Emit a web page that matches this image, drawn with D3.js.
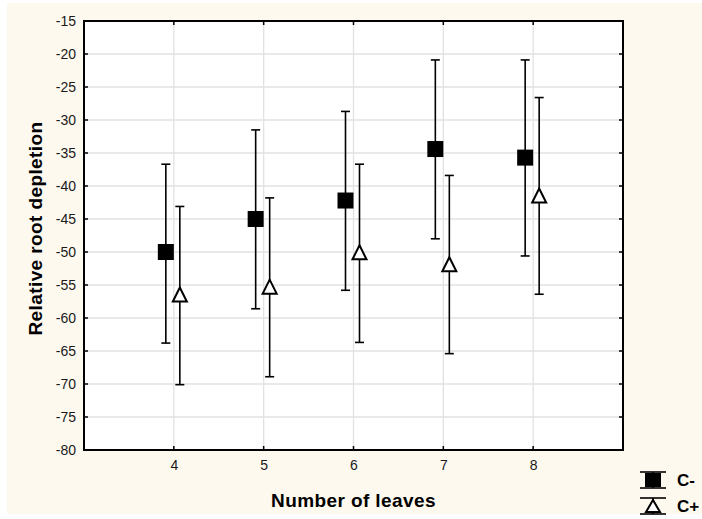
<!DOCTYPE html>
<html>
<head>
<meta charset="utf-8">
<script src="https://d3js.org/d3.v7.min.js"></script>
<style>
  body { margin: 0; background: #fff; }
  svg { display: block; font-family: Arial, "Liberation Sans", sans-serif; }
</style>
</head>
<body>
<div id="chart"></div>
<script>
// data
const leaves = [4, 5, 6, 7, 8];
const cMinusMean = [-50.0, -45.0, -42.2, -34.4, -35.7];
const cMinusLow = [-63.8, -58.6, -55.8, -48.0, -50.6];
const cMinusHigh = [-36.7, -31.5, -28.7, -20.9, -20.9];
const cPlusMean = [-56.6, -55.4, -50.2, -52.0, -41.6];
const cPlusLow = [-70.1, -68.9, -63.7, -65.4, -56.4];
const cPlusHigh = [-43.1, -41.8, -36.7, -38.4, -26.6];
const yTicks = d3.range(-80, -14, 5);
const seriesNames = ['C-', 'C+'];

const width = 702, height = 519;
const margin = { left: 84, top: 21, right: 79, bottom: 69 };
const fontStack = 'Arial, "Liberation Sans", sans-serif';

const svg = d3.select('#chart').append('svg')
    .attr('width', width)
    .attr('height', height);

svg.append('rect')
    .attr('x', 7).attr('y', 3)
    .attr('width', width - 7).attr('height', 511)
    .attr('fill', '#fdf9ee');

const x = d3.scaleLinear().domain([3, 9]).range([margin.left, width - margin.right]);
const y = d3.scaleLinear().domain([-80, -15]).range([height - margin.bottom, margin.top]);

svg.append('rect')
    .attr('x', x(3)).attr('y', y(-15))
    .attr('width', x(9) - x(3)).attr('height', y(-80) - y(-15))
    .attr('fill', '#fff');

// grid
svg.append('g').selectAll('line')
    .data(yTicks.slice(1, -1))
    .enter().append('line')
    .attr('x1', x(3)).attr('x2', x(9))
    .attr('y1', d => y(d)).attr('y2', d => y(d))
    .attr('stroke', '#e2e2e2').attr('stroke-width', 1.3);
svg.append('g').selectAll('line')
    .data(leaves)
    .enter().append('line')
    .attr('y1', y(-15)).attr('y2', y(-80))
    .attr('x1', d => x(d)).attr('x2', d => x(d))
    .attr('stroke', '#e2e2e2').attr('stroke-width', 1.3);

// axes (labels only, frame drawn below)
const yAxis = svg.append('g')
    .attr('transform', `translate(${x(3)},0)`)
    .call(d3.axisLeft(y).tickValues(yTicks).tickFormat(d => String(d)).tickSize(0).tickPadding(8));
const xAxis = svg.append('g')
    .attr('transform', `translate(0,${y(-80)})`)
    .call(d3.axisBottom(x).tickValues(leaves).tickFormat(d => String(d)).tickSize(0).tickPadding(10));
[yAxis, xAxis].forEach(a => {
    a.select('.domain').remove();
    a.selectAll('text')
        .style('font-size', '14px')
        .style('font-family', fontStack)
        .attr('fill', '#1a1a1a');
});

// inner ticks on all sides
const tk = svg.append('g').attr('stroke', '#000').attr('stroke-width', 1.5);
yTicks.forEach(v => {
    tk.append('line').attr('x1', x(3)).attr('x2', x(3) + 4).attr('y1', y(v)).attr('y2', y(v));
    tk.append('line').attr('x1', x(9)).attr('x2', x(9) - 4).attr('y1', y(v)).attr('y2', y(v));
});
leaves.forEach(v => {
    tk.append('line').attr('x1', x(v)).attr('x2', x(v)).attr('y1', y(-80)).attr('y2', y(-80) - 4);
    tk.append('line').attr('x1', x(v)).attr('x2', x(v)).attr('y1', y(-15)).attr('y2', y(-15) + 4);
});

svg.append('rect')
    .attr('x', x(3)).attr('y', y(-15))
    .attr('width', x(9) - x(3)).attr('height', y(-80) - y(-15))
    .attr('fill', 'none').attr('stroke', '#000').attr('stroke-width', 2);

// error bars + markers
function drawMarker(g, cx, cy, kind) {
    if (kind === 'square') {
        g.append('rect').attr('x', cx - 8).attr('y', cy - 8)
            .attr('width', 16).attr('height', 16).attr('fill', '#000');
    } else {
        g.append('path')
            .attr('d', `M${cx},${cy - 8}L${cx + 7},${cy + 6}L${cx - 7},${cy + 6}Z`)
            .attr('fill', '#fff').attr('stroke', '#000').attr('stroke-width', 2);
    }
}

function drawSeries(mean, lo, hi, dx, kind) {
    const g = svg.append('g');
    leaves.forEach((lv, i) => {
        const cx = x(lv) + dx;
        g.append('line').attr('x1', cx).attr('x2', cx)
            .attr('y1', y(hi[i])).attr('y2', y(lo[i]))
            .attr('stroke', '#000').attr('stroke-width', 1.6);
        [hi[i], lo[i]].forEach(v => {
            g.append('line').attr('x1', cx - 4.5).attr('x2', cx + 4.5)
                .attr('y1', y(v)).attr('y2', y(v))
                .attr('stroke', '#000').attr('stroke-width', 1.6);
        });
        drawMarker(g, cx, y(mean[i]), kind);
    });
}

drawSeries(cMinusMean, cMinusLow, cMinusHigh, -8, 'square');
drawSeries(cPlusMean, cPlusLow, cPlusHigh, 6, 'triangle');

// axis titles
svg.append('text')
    .attr('x', x(6)).attr('y', 507)
    .attr('text-anchor', 'middle')
    .style('font-size', '19px').attr('font-weight', 'bold')
    .attr('letter-spacing', 0.4)
    .text('Number of leaves');
svg.append('text')
    .attr('transform', `translate(42,${(y(-15) + y(-80)) / 2 - 7}) rotate(-90)`)
    .attr('text-anchor', 'middle')
    .style('font-size', '19px').attr('font-weight', 'bold')
    .attr('letter-spacing', 0.4)
    .text('Relative root depletion');

// legend
const legend = svg.append('g');
seriesNames.forEach((name, i) => {
    const cx = 653, top = 472 + i * 26, bot = top + 16;
    const lg = legend.append('g');
    lg.append('line').attr('x1', cx).attr('x2', cx).attr('y1', top).attr('y2', bot)
        .attr('stroke', '#000').attr('stroke-width', 1.6);
    [top, bot].forEach(v => {
        lg.append('line').attr('x1', cx - 13).attr('x2', cx + 13).attr('y1', v).attr('y2', v)
            .attr('stroke', '#000').attr('stroke-width', 1.6);
    });
    if (i === 0) {
        lg.append('rect').attr('x', cx - 8).attr('y', top + 1).attr('width', 16).attr('height', 14).attr('fill', '#000');
    } else {
        lg.append('path')
            .attr('d', `M${cx},${top + 2}L${cx + 7},${bot - 2}L${cx - 7},${bot - 2}Z`)
            .attr('fill', '#fff').attr('stroke', '#000').attr('stroke-width', 2);
    }
    legend.append('text')
        .attr('x', 677).attr('y', top + 14)
        .style('font-size', '17px').attr('font-weight', 'bold')
        .text(name);
});
</script>
</body>
</html>
